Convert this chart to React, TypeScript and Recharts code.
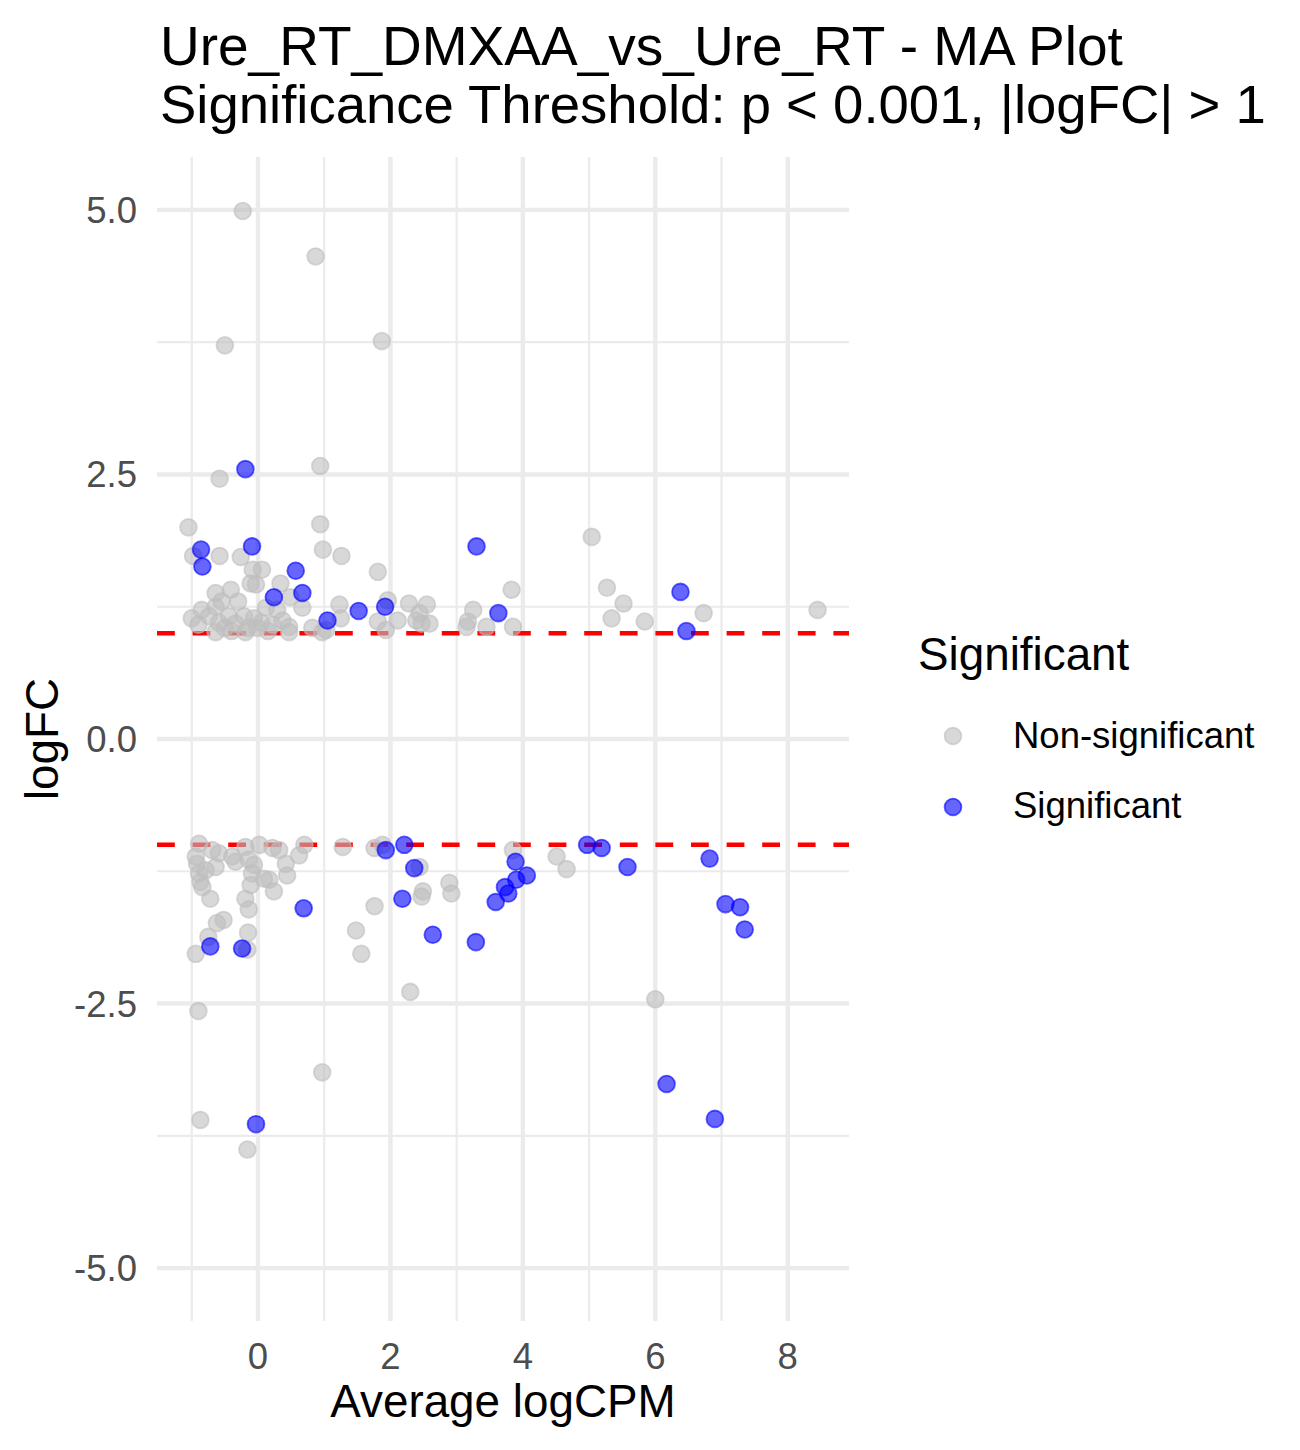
import React from "react";
import { ScatterChart, Scatter, XAxis, YAxis, CartesianGrid, ReferenceLine, Legend, Label } from "recharts";

// Non-significant genes (average logCPM, logFC)
const nsX = [
  -0.23, 0.87, -0.5, 1.87, 0.94, -0.58, -1.05, 0.94, -0.98, -0.58, -0.26, 0.98, -0.08, 0.06, -0.11, -0.03,
  0.34, -0.64, -0.41, 0.49, 0.67, 0.12, 0.29, -1.0, -0.85, -0.74, -0.64, -0.55, -0.59, -0.64, -0.44, -0.34,
  -0.21, -0.19, -0.06, -0.01, 0.22, 0.37, 0.47, 0.47, 0.82, 0.97, -0.3, -0.15, 0.05, -0.9, -0.5, -0.4, 0.15,
  1.26, 1.81, 3.83, 1.23, 1.25, 1.03, 1.96, 1.81, 1.93, 2.11, 2.28, 2.39, 2.44, 2.55, 2.59, 2.47, 3.25, 3.17,
  3.15, 3.45, 3.85, 5.04, 5.27, 5.52, 5.34, 5.84, 6.73, 8.45,
  -0.89, -0.94, -0.92, -0.89, -0.87, -0.84, -0.79, -0.72, -0.64, -0.59, -0.69, -0.39, -0.34, -0.19, -0.14,
  -0.06, -0.09, 0.02, -0.11, -0.19, -0.14, 0.09, 0.17, 0.24, 0.22, 0.32, 0.42, 0.44, 0.62, 0.7, -0.52, -0.62,
  -0.75, -0.15, -0.16, -0.94, 1.28, 1.76, 1.88, 2.44, 2.49, 2.47, 1.76, 1.48, 1.56, 2.89, 2.92, 3.85, 4.51,
  4.66, -0.9, 2.3, 6.0, 0.97, -0.87, -0.16,
];
const nsY = [
  4.99, 4.56, 3.72, 3.76, 2.58, 2.46, 2.0, 2.03, 1.73, 1.73, 1.72, 1.79, 1.6, 1.6, 1.47, 1.46,
  1.47, 1.38, 1.41, 1.34, 1.24, 1.24, 1.22, 1.14, 1.22, 1.16, 1.25, 1.3, 1.1, 1.01, 1.16, 1.09,
  1.16, 1.01, 1.14, 1.05, 1.08, 1.12, 1.06, 1.01, 1.05, 1.01, 1.3, 1.05, 1.1, 1.08, 1.05, 1.02, 1.02,
  1.73, 1.58, 1.41, 1.27, 1.14, 1.03, 1.31, 1.11, 1.03, 1.12, 1.28, 1.12, 1.19, 1.27, 1.09, 1.09, 1.22, 1.11,
  1.06, 1.06, 1.06, 1.91, 1.43, 1.28, 1.14, 1.11, 1.19, 1.22,
  -0.99, -1.11, -1.18, -1.27, -1.35, -1.4, -1.24, -1.51, -1.21, -1.08, -1.05, -1.11, -1.16, -1.02, -1.14,
  -1.19, -1.27, -1.0, -1.38, -1.51, -1.61, -1.32, -1.33, -1.44, -1.03, -1.05, -1.18, -1.29, -1.1, -1.0, -1.71, -1.74,
  -1.87, -1.83, -1.99, -2.03, -1.02, -1.03, -1.0, -1.21, -1.44, -1.49, -1.58, -1.81, -2.03, -1.36, -1.46, -1.05, -1.11,
  -1.23, -2.57, -2.39, -2.46, -3.15, -3.6, -3.88,
];

// Significant genes
const sigX = [
  -0.19, -0.86, -0.84, -0.09, 0.57, 0.24, 0.67, 1.05, 1.52, 1.92, 3.3, 3.63, 6.38, 6.47,
  0.69, -0.72, -0.24, 1.93, 2.21, 2.36, 2.18, 2.64, 3.29, 3.59, 3.73, 3.78, 3.9, 4.06, 3.89, 4.97, 5.19,
  5.58, 6.82, 7.06, 7.28, 7.35, 6.17, -0.03, 6.9,
];
const sigY = [
  2.55, 1.79, 1.63, 1.82, 1.59, 1.34, 1.38, 1.12, 1.21, 1.25, 1.82, 1.19, 1.39, 1.02,
  -1.6, -1.96, -1.98, -1.05, -1.0, -1.22, -1.51, -1.85, -1.92, -1.54, -1.4, -1.46, -1.33, -1.29, -1.16, -1.0, -1.03,
  -1.21, -1.13, -1.56, -1.59, -1.8, -3.26, -3.64, -3.59,
];

const xTicks = [0, 2, 4, 6, 8];
const xMinor = [-1, 1, 3, 5, 7];
const yTicks = [-5, -2.5, 0, 2.5, 5];
const yMinor = [-3.75, -1.25, 1.25, 3.75];
const thresholds = [1, -1];
const xDomain = [-1.525, 8.925];
const yDomain = [-5.5, 5.5];

const nsData = nsX.map((x, i) => ({ x, y: nsY[i] }));
const sigData = sigX.map((x, i) => ({ x, y: sigY[i] }));

const FONT = "'Liberation Sans', Arial, Helvetica, sans-serif";
const GREY = "#bebebe";
const BLUE = "#0000ff";
const R = 8.4;

const dot = (color: string) => (props: any) => (
  <circle
    cx={props.cx}
    cy={props.cy}
    r={R}
    fill={color}
    fillOpacity={0.6}
    stroke={color}
    strokeOpacity={0.6}
    strokeWidth={1.8}
  />
);

const LegendBox = () => (
  <svg width={400} height={230} style={{ fontFamily: FONT }}>
    <text x={18} y={50} fontSize={45.8} fill="#000">Significant</text>
    <circle cx={53} cy={116} r={R} fill={GREY} fillOpacity={0.6} stroke={GREY} strokeOpacity={0.6} strokeWidth={1.8} />
    <text x={113} y={128} fontSize={36.5} fill="#000">Non-significant</text>
    <circle cx={53} cy={187} r={R} fill={BLUE} fillOpacity={0.6} stroke={BLUE} strokeOpacity={0.6} strokeWidth={1.8} />
    <text x={113} y={198} fontSize={36.5} fill="#000">Significant</text>
  </svg>
);

const YTitle = ({ viewBox }: any) => {
  const cy = viewBox.y + viewBox.height / 2;
  return (
    <text
      x={58}
      y={cy}
      transform={`rotate(-90 58 ${cy})`}
      textAnchor="middle"
      fontSize={45.8}
      fill="#000"
      fontFamily={FONT}
    >
      logFC
    </text>
  );
};

export default function App() {
  return (
    <div style={{ position: "absolute", left: 0, top: 0, width: 1300, height: 1450, background: "#fff", fontFamily: FONT }}>
      <svg width={1300} height={150} style={{ position: "absolute", left: 0, top: 0 }}>
        <text x={160} y={65} fontSize={55} fill="#000" fontFamily={FONT}>Ure_RT_DMXAA_vs_Ure_RT - MA Plot</text>
        <text x={160} y={123} fontSize={54.5} fill="#000" fontFamily={FONT}>Significance Threshold: p &lt; 0.001, |logFC| &gt; 1</text>
      </svg>
      <ScatterChart width={1300} height={1450} margin={{ top: 157, right: 451, bottom: 0, left: 0 }}>
        {/* hidden axes that only carry the minor grid positions */}
        <XAxis xAxisId="minor" type="number" dataKey="x" domain={xDomain} ticks={xMinor} allowDataOverflow hide />
        <YAxis yAxisId="minor" type="number" dataKey="y" domain={yDomain} ticks={yMinor} allowDataOverflow hide />
        <CartesianGrid xAxisId="minor" yAxisId="minor" stroke="#ebebeb" strokeWidth={2.2} syncWithTicks />
        <CartesianGrid stroke="#ebebeb" strokeWidth={4.4} syncWithTicks />
        <XAxis
          type="number"
          dataKey="x"
          domain={xDomain}
          ticks={xTicks}
          allowDataOverflow
          height={129}
          axisLine={false}
          tickLine={false}
          tickSize={0}
          tickMargin={22}
          tick={{ fontSize: 36.5, fill: "#4d4d4d", fontFamily: FONT }}
        >
          <Label value="Average logCPM" position="insideBottom" offset={33} fontSize={45.8} fill="#000" fontFamily={FONT} />
        </XAxis>
        <YAxis
          type="number"
          dataKey="y"
          domain={yDomain}
          ticks={yTicks}
          allowDataOverflow
          width={157}
          axisLine={false}
          tickLine={false}
          tickSize={0}
          tickMargin={20}
          tickFormatter={(v: number) => v.toFixed(1)}
          tick={{ fontSize: 36.5, fill: "#4d4d4d", fontFamily: FONT }}
        >
          <Label content={<YTitle />} />
        </YAxis>
        <Scatter name="Non-significant" data={nsData} fill={GREY} shape={dot(GREY)} isAnimationActive={false} />
        <Scatter name="Significant" data={sigData} fill={BLUE} shape={dot(BLUE)} isAnimationActive={false} />
        {thresholds.map((t) => (
          <ReferenceLine key={t} y={t} stroke="#ff0000" strokeWidth={4.4} strokeDasharray="17.8 17.8" />
        ))}
        <Legend
          layout="vertical"
          align="center"
          verticalAlign="middle"
          content={<LegendBox />}
          wrapperStyle={{ left: 900, top: 620, width: 400, height: 230 }}
        />
      </ScatterChart>
    </div>
  );
}
